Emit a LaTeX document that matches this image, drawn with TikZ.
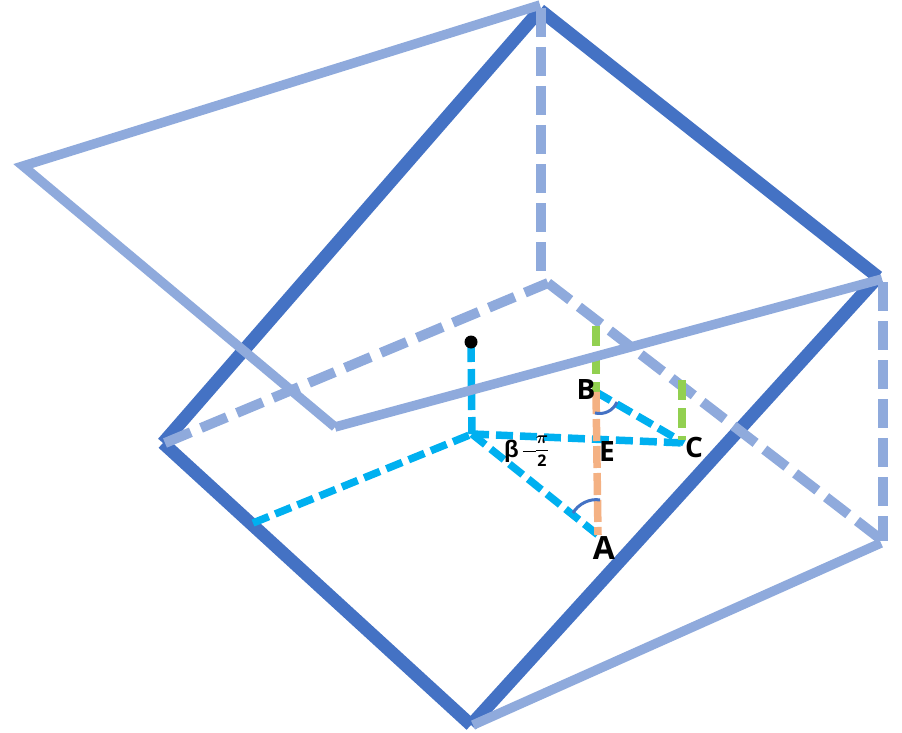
\documentclass[tikz,border=0pt]{standalone}
\usepackage{amsmath,amsbsy}
\usepackage{fontspec}
\setmainfont{Open Sans}
\newfontfamily\betafont{Liberation Sans}
\definecolor{darkb}{HTML}{4472C4}
\definecolor{lightb}{HTML}{8FAADC}
\definecolor{cyanl}{HTML}{00B0F0}
\definecolor{greenl}{HTML}{92D050}
\definecolor{orangel}{HTML}{F4B183}
\tikzset{
  frameline/.style={draw=darkb,line width=13pt,line cap=butt,line join=miter},
  backsolid/.style={draw=lightb,line width=9.5pt,line join=miter},
  backdash/.style={draw=lightb,line width=10pt,dash pattern=on 29pt off 10pt},
  backdashb/.style={draw=lightb,line width=10pt,dash pattern=on 28pt off 11pt},
  cyandash/.style={draw=cyanl,line width=7.5pt,dash pattern=on 17pt off 7pt},
  greendash/.style={draw=greenl,line width=7.5pt,dash pattern=on 20pt off 8pt},
  orangedash/.style={draw=orangel,line width=7.5pt,dash pattern=on 22pt off 5pt},
  anglearc/.style={draw=darkb,line width=3pt},
  ptlabel/.style={font=\fontsize{28pt}{28pt}\selectfont\bfseries,inner sep=0pt,text=black},
}
\begin{document}
\begin{tikzpicture}[x=1pt,y=-1pt]
\useasboundingbox (0,0) rectangle (902,733);
\coordinate (T) at (540,10);
\coordinate (R) at (878,277);
\coordinate (L) at (163,443);
\coordinate (Bm) at (471,725);
\coordinate (Far) at (23,166);
\coordinate (TF) at (540,5);
\coordinate (In) at (335,427);
\coordinate (RF) at (882,279);
\coordinate (Bk) at (548,283);
\coordinate (Rb) at (883,541);
\coordinate (BmF) at (473,725);
\coordinate (RbF) at (881,543);
\coordinate (TV) at (541,8);
\coordinate (BkV) at (541,278);
\coordinate (RV) at (883,282);
\coordinate (LF) at (165,443);
\coordinate (O) at (472,434);
\coordinate (D) at (471,342);
\coordinate (S) at (253,523);
\coordinate (A) at (598,535);
\coordinate (B) at (596,392);
\coordinate (C) at (684,443);
\coordinate (G1) at (596,326);
\coordinate (G2) at (682,380);
\coordinate (G3) at (682,440);
% dark frame
\draw[frameline] (T) -- (R);
\draw[frameline] (R) -- (Bm);
\draw[frameline] (Bm) -- (L);
\draw[frameline] (L) -- (T);
% light back frame
\draw[backdash] (TV) -- (BkV);
\draw[backdash] (RV) -- (Rb);
\draw[backdashb] (LF) -- (Bk);
\draw[backdashb] (Bk) -- (Rb);
% cyan
\draw[cyandash] (S) -- (O);
\draw[cyandash] (O) -- (D);
\draw[cyandash] (O) -- (C);
\draw[cyandash] (O) -- (A);
\draw[cyandash] (B) -- (C);
% green and orange
\draw[greendash] (G1) -- (B);
\draw[greendash] (G2) -- (G3);
\draw[orangedash] (B) -- (A);
% light solids
\draw[backsolid] (TF) -- (Far) -- (In);
\draw[backsolid] (In) -- (RF);
\draw[backsolid] (BmF) -- (RbF);
% arcs
\coordinate (Ba) at (595,413);
\coordinate (Bb) at (617,402);
\coordinate (Aa) at (573,513);
\coordinate (Ab) at (600,500);
\draw[anglearc] (Ba) .. controls (604,415) and (613,411) .. (Bb);
\draw[anglearc] (Aa) .. controls (578,504) and (590,498) .. (Ab);
% dot
\node[circle,fill=black,minimum size=13pt,inner sep=0pt] (dot) at (D) {};
% labels
\node[ptlabel] (lb) at (586,390) {B};
\node[ptlabel] (lc) at (694,447) {C};
\node[ptlabel] (le) at (607,452) {E};
\node[ptlabel,font=\fontsize{32pt}{32pt}\selectfont\bfseries] (la) at (604,548) {A};
\node[inner sep=0pt,text=black,anchor=west] (lm) at (504,451) {\fontsize{24pt}{24pt}\selectfont\betafont\textbf{β}\,\rule[5pt]{13pt}{0.9pt}};
\node[inner sep=0pt,text=black] (lf) at (542,451) {\fontsize{16pt}{16pt}\selectfont$\dfrac{\boldsymbol{\pi}}{\mathbf{2}}$};
\end{tikzpicture}
\end{document}
